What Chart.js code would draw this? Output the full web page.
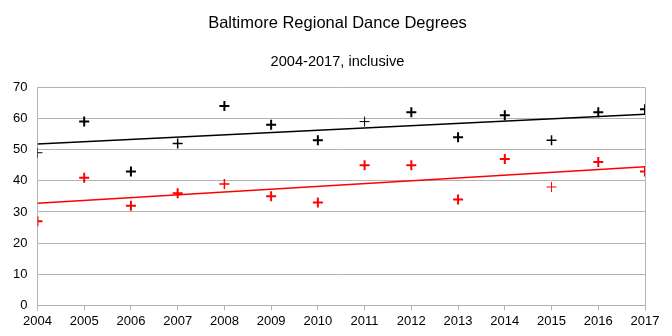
<!DOCTYPE html>
<html>
<head>
<meta charset="utf-8">
<script src="https://cdn.jsdelivr.net/npm/chart.js@4"></script>
<style>
  html, body { margin: 0; padding: 0; background: #fff; }
  canvas { display: block; }
</style>
</head>
<body>
<canvas id="chart" width="672" height="336"></canvas>
<script>
  // values
  const years = [2004, 2005, 2006, 2007, 2008, 2009, 2010, 2011, 2012, 2013, 2014, 2015, 2016, 2017];
  const blackSeries = [49, 59, 43, 52, 64, 58, 53, 59, 62, 54, 61, 53, 62, 63];
  const redSeries = [27, 41, 32, 36, 39, 35, 33, 45, 45, 34, 47, 38, 46, 43];
  const yTicks = [0, 10, 20, 30, 40, 50, 60, 70];

  // some markers in the original render thinner than others
  const blackStroke = [1, 2, 2, 1.5, 2, 2, 2, 1, 2, 2, 2, 1.5, 2, 2];
  const redStroke = [2, 2, 2, 2, 1.5, 2, 2, 2, 2, 2, 2, 1, 2, 2];

  function points(xs, ys) {
    return xs.map(function (x, i) { return { x: x, y: ys[i] }; });
  }

  // least-squares trend line over the full range
  function trend(xs, ys) {
    const n = xs.length;
    const mx = xs.reduce(function (a, b) { return a + b; }, 0) / n;
    const my = ys.reduce(function (a, b) { return a + b; }, 0) / n;
    let sxy = 0, sxx = 0;
    for (let i = 0; i < n; i++) {
      sxy += (xs[i] - mx) * (ys[i] - my);
      sxx += (xs[i] - mx) * (xs[i] - mx);
    }
    const slope = sxy / sxx;
    const x0 = xs[0], x1 = xs[n - 1];
    return [{ x: x0, y: my + slope * (x0 - mx) }, { x: x1, y: my + slope * (x1 - mx) }];
  }

  const grey = '#b3b3b3';
  const font = 'Liberation Sans, Arial, sans-serif';

  new Chart(document.getElementById('chart'), {
    type: 'scatter',
    data: {
      datasets: [
        {
          label: 'Black',
          data: points(years, blackSeries),
          pointStyle: 'cross',
          pointRadius: 5,
          pointBorderWidth: blackStroke,
          borderColor: '#000',
          backgroundColor: '#000'
        },
        {
          label: 'Red',
          data: points(years, redSeries),
          pointStyle: 'cross',
          pointRadius: 5,
          pointBorderWidth: redStroke,
          borderColor: '#ff0000',
          backgroundColor: '#ff0000'
        },
        {
          type: 'line',
          label: 'Black trend',
          data: trend(years, blackSeries),
          borderColor: '#000',
          borderWidth: 1.5,
          pointRadius: 0,
          fill: false
        },
        {
          type: 'line',
          label: 'Red trend',
          data: trend(years, redSeries),
          borderColor: '#ff0000',
          borderWidth: 1.5,
          pointRadius: 0,
          fill: false
        }
      ]
    },
    options: {
      responsive: false,
      animation: false,
      layout: { padding: { left: 3, right: 0, top: 0, bottom: 4 } },
      plugins: {
        legend: { display: false },
        tooltip: { enabled: false },
        title: {
          display: true,
          text: 'Baltimore Regional Dance Degrees',
          color: '#000',
          font: { family: font, size: 16.5, weight: 'normal' },
          padding: { top: 14, bottom: 19 }
        },
        subtitle: {
          display: true,
          text: '2004-2017, inclusive',
          color: '#000',
          font: { family: font, size: 14.6, weight: 'normal' },
          padding: { top: 0, bottom: 17 }
        }
      },
      scales: {
        x: {
          type: 'linear',
          min: years[0],
          max: years[years.length - 1],
          afterBuildTicks: function (axis) {
            axis.ticks = years.map(function (v) { return { value: v }; });
          },
          afterFit: function (axis) {
            axis.paddingRight = 27;
          },
          ticks: {
            color: '#000',
            font: { family: font, size: 13 },
            padding: 3,
            maxRotation: 0,
            autoSkip: false,
            callback: function (v) { return String(v); }
          },
          grid: {
            color: function (ctx) {
              return (ctx.index === 0 || ctx.index === years.length - 1) ? grey : 'rgba(0,0,0,0)';
            },
            tickColor: grey,
            tickLength: 5,
            lineWidth: 1
          },
          border: { display: true, color: grey }
        },
        y: {
          min: yTicks[0],
          max: yTicks[yTicks.length - 1],
          afterBuildTicks: function (axis) {
            axis.ticks = yTicks.map(function (v) { return { value: v }; });
          },
          ticks: {
            color: '#000',
            font: { family: font, size: 13 },
            padding: 10
          },
          grid: {
            color: grey,
            drawTicks: false,
            lineWidth: 1
          },
          border: { display: true, color: grey }
        }
      }
    }
  });
</script>
</body>
</html>
